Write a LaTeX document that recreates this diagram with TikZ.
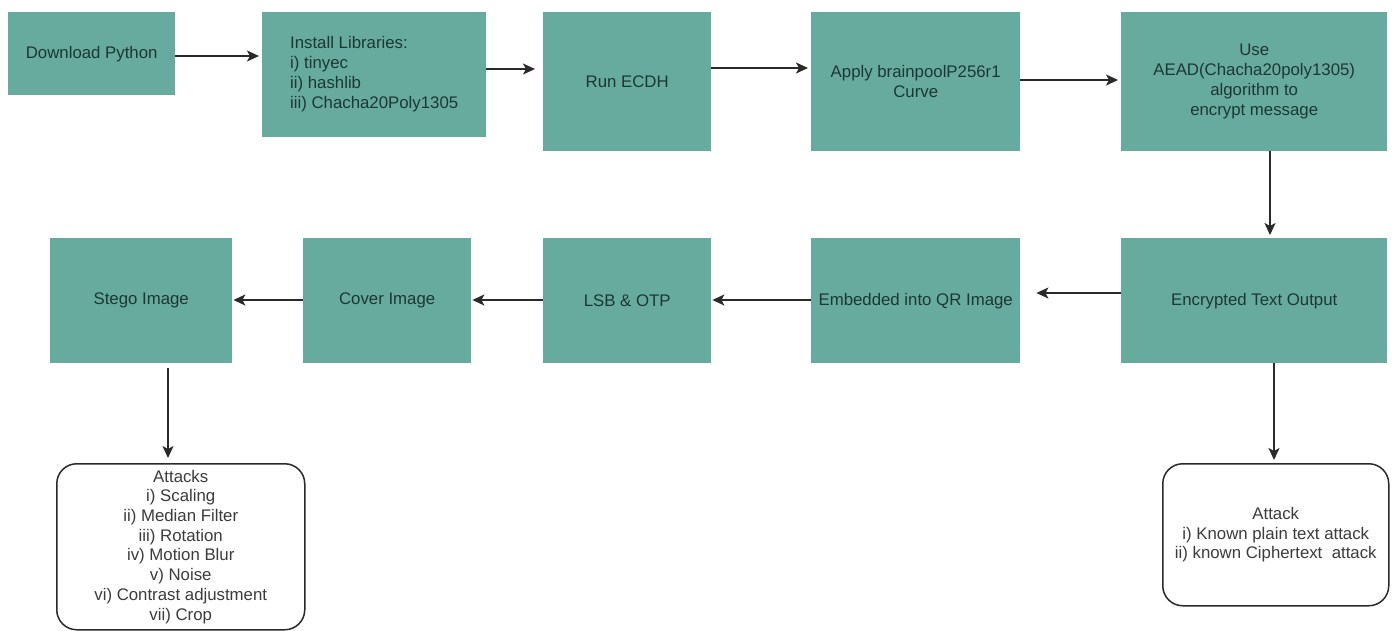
\documentclass[tikz,border=0pt]{standalone}
\usepackage{fontspec}
\setmainfont{Liberation Sans}
\usetikzlibrary{arrows.meta,calc}
\definecolor{boxfill}{HTML}{67AB9F}
\definecolor{boxtext}{HTML}{1C3833}
\definecolor{linegray}{HTML}{2A2A2A}
\definecolor{notetext}{HTML}{3C3C3C}
\begin{document}
\begin{tikzpicture}[x=1pt,y=-1pt,
  stepbox/.style={fill=boxfill, draw=none, text=boxtext, align=center,
    inner sep=0pt, anchor=north west, font=\fontsize{16.8}{20}\selectfont},
  notebox/.style={draw=linegray, line width=1.5pt, fill=white, rounded corners=20pt,
    text=notetext, align=center, inner sep=0pt, anchor=north west,
    font=\fontsize{16.8}{19.7}\selectfont},
  flow/.style={draw=linegray, line width=1.5pt,
    -{Stealth[length=12pt,width=11pt,inset=3pt]}, shorten >=3pt}]
\useasboundingbox[fill=white] (0,0) rectangle (1397,630);

% top row
\node[stepbox, minimum width=167pt, minimum height=83pt] (dl) at (8,12) {Download Python};
\node[stepbox, minimum width=224pt, minimum height=125pt] (lib) at (262,12)
  {\begin{tabular}{@{}l@{}}Install Libraries:\\ i) tinyec\\ ii) hashlib\\ iii) Chacha20Poly1305\end{tabular}};
\node[stepbox, minimum width=168pt, minimum height=139pt] (ecdh) at (543,12) {Run ECDH};
\node[stepbox, minimum width=209pt, minimum height=139pt] (curve) at (811,12) {Apply brainpoolP256r1\\Curve};
\node[stepbox, minimum width=266pt, minimum height=139pt] (aead) at (1121,12)
  {Use\\AEAD(Chacha20poly1305)\\algorithm to\\encrypt message};

% bottom row
\node[stepbox, minimum width=266pt, minimum height=125pt] (enc) at (1121,238) {Encrypted Text Output};
\node[stepbox, minimum width=209pt, minimum height=125pt] (qr) at (811,238) {Embedded into QR Image};
\node[stepbox, minimum width=168pt, minimum height=125pt] (lsb) at (543,238) {LSB \& OTP};
\node[stepbox, minimum width=168pt, minimum height=125pt] (cover) at (303,238) {Cover Image};
\node[stepbox, minimum width=182pt, minimum height=125pt] (stego) at (50,238) {Stego Image};

% attack notes
\node[notebox, minimum width=248pt, minimum height=166pt] (imgatk) at (56,463)
  {Attacks\\i) Scaling\\ii) Median Filter\\iii) Rotation\\iv) Motion Blur\\v) Noise\\vi) Contrast adjustment\\vii) Crop};
\node[notebox, minimum width=226pt, minimum height=142pt] (txtatk) at (1162,463)
  {Attack\\i) Known plain text attack\\ii) known Ciphertext\ \ attack};

% connectors
\draw[flow] (dl.east |- 0,56) -- (lib.west |- 0,56);
\draw[flow, shorten >=8pt] (lib.east |- 0,69) -- (ecdh.west |- 0,69);
\draw[flow] (ecdh.east |- 0,68) -- (curve.west |- 0,68);
\draw[flow] (curve.east |- 0,80) -- (aead.west |- 0,80);
\draw[flow] (aead.south -| 1270,0) -- (enc.north -| 1270,0);
\draw[flow, shorten >=16pt] (enc.west |- 0,293) -- (qr.east |- 0,293);
\draw[flow, shorten >=1pt] (qr.west |- 0,300) -- (lsb.east |- 0,300);
\draw[flow, shorten >=1pt] (lsb.west |- 0,300) -- (cover.east |- 0,300);
\draw[flow, shorten >=1pt] (cover.west |- 0,300) -- (stego.east |- 0,300);
\draw[flow, shorten <=5pt, shorten >=5pt] (stego.south -| 168,0) -- (imgatk.north -| 168,0);
\draw[flow] (enc.south -| 1274,0) -- (txtatk.north -| 1274,0);
\end{tikzpicture}
\end{document}
